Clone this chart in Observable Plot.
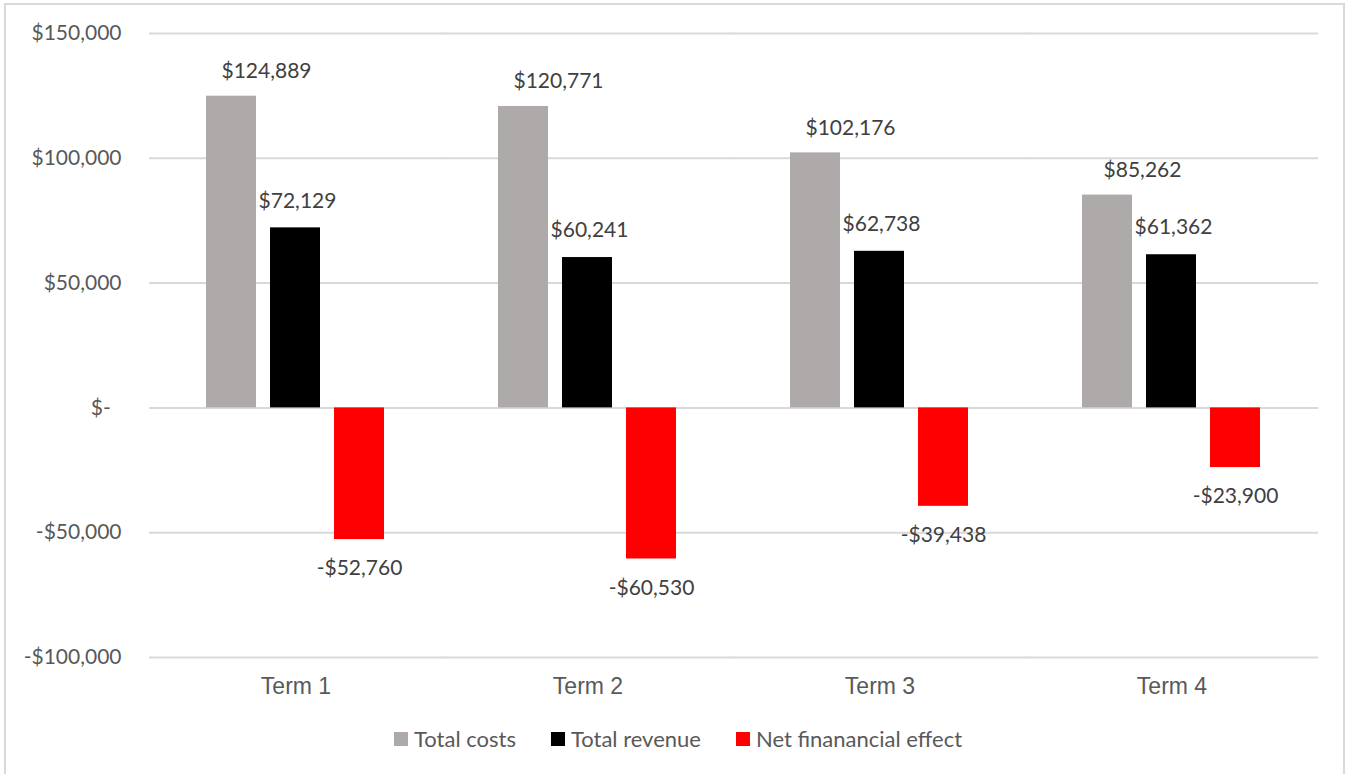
<!DOCTYPE html>
<html>
<head>
<meta charset="utf-8">
<script src="https://cdn.jsdelivr.net/npm/d3@7"></script>
<script src="https://cdn.jsdelivr.net/npm/@observablehq/plot@0.6"></script>
<style>
  html, body { margin: 0; padding: 0; background: #fff; overflow: hidden; width: 1352px; height: 774px; }
  #frame { position: absolute; left: 4px; top: 3px; width: 1341px; height: 800px; border: 2px solid #d9d9d9; box-sizing: border-box; }
  #chart { position: absolute; left: 0; top: 0; }
  #legend { position: absolute; left: 394px; top: 725px; display: flex; align-items: center; font-family: Lato, "Open Sans", sans-serif; font-size: 22px; color: #595959; }
  #legend .item { display: flex; align-items: center; margin-right: 35px; }
  #legend .sw { width: 14px; height: 14px; margin-right: 6px; }
</style>
</head>
<body>
<div id="frame"></div>
<div id="chart"></div>
<div id="legend"></div>
<script>
const terms = ["Term 1", "Term 2", "Term 3", "Term 4"];
const seriesNames = ["Total costs", "Total revenue", "Net finanancial effect"];
const totalCosts = [124889, 120771, 102176, 85262];
const totalRevenue = [72129, 60241, 62738, 61362];
const netEffect = [-52760, -60530, -39438, -23900];
const seriesColors = ["#AEAAAA", "#000000", "#FF0000"];
const yTicks = [150000, 100000, 50000, 0, -50000, -100000];
const yTickLabels = ["$150,000", "$100,000", "$50,000", "$-\u00a0\u00a0", "-$50,000", "-$100,000"];

const seriesValues = [totalCosts, totalRevenue, netEffect];
const data = terms.flatMap((t, i) => seriesNames.map((s, j) => ({term: t, series: s, value: seriesValues[j][i]})));

const fmt = v => (v < 0 ? "-$" : "$") + d3.format(",")(Math.abs(v));
const labelFont = "Lato, 'Open Sans', sans-serif";

const chart = Plot.plot({
  width: 1352,
  height: 710,
  marginLeft: 148,
  marginRight: 34,
  marginTop: 33,
  marginBottom: 53,
  style: {background: "transparent", fontFamily: labelFont, fontSize: "21px", color: "#595959"},
  fx: {domain: terms, paddingInner: 0.381, paddingOuter: 0.1915, axis: null, label: null},
  x: {domain: seriesNames, paddingInner: 0.215, paddingOuter: 0, axis: null},
  y: {domain: [-100000, 150000], axis: null},
  color: {domain: seriesNames, range: seriesColors},
  marks: [
    Plot.ruleY(yTicks, {y: d => d, stroke: "#d9d9d9", strokeWidth: 2, insetLeft: -56, insetRight: -56}),
    Plot.barY(data, {fx: "term", x: "series", y: "value", fill: "series"}),
    Plot.text(data.filter(d => d.series === seriesNames[0]), {fx: "term", x: "series", y: "value", text: d => fmt(d.value), dy: -25, dx: 35, fill: "#404040", fontSize: 21, fontFamily: labelFont}),
    Plot.text(data.filter(d => d.series === seriesNames[1]), {fx: "term", x: "series", y: "value", text: d => fmt(d.value), dy: -27, dx: 2, fill: "#404040", fontSize: 21, fontFamily: labelFont}),
    Plot.text(data.filter(d => d.series === seriesNames[2]), {fx: "term", x: "series", y: "value", text: d => fmt(d.value), dy: 29, fill: "#404040", fontSize: 21, fontFamily: labelFont}),
    Plot.text(terms, {fx: d => d, text: d => d, frameAnchor: "bottom", dy: 36, fill: "#595959", fontSize: 23, fontFamily: "'Liberation Sans', Arial, sans-serif"}),
    Plot.text(yTicks, {fx: () => terms[0], y: d => d, text: (d, i) => yTickLabels[i], frameAnchor: "left", textAnchor: "end", dx: -84, fill: "#595959", fontSize: 21, fontFamily: labelFont})
  ]
});
document.getElementById("chart").appendChild(chart);

const legend = document.getElementById("legend");
seriesNames.forEach((s, i) => {
  const item = document.createElement("div");
  item.className = "item";
  const sw = document.createElement("div");
  sw.className = "sw";
  sw.style.background = seriesColors[i];
  const label = document.createElement("span");
  label.textContent = s;
  item.appendChild(sw);
  item.appendChild(label);
  legend.appendChild(item);
});
</script>
</body>
</html>
